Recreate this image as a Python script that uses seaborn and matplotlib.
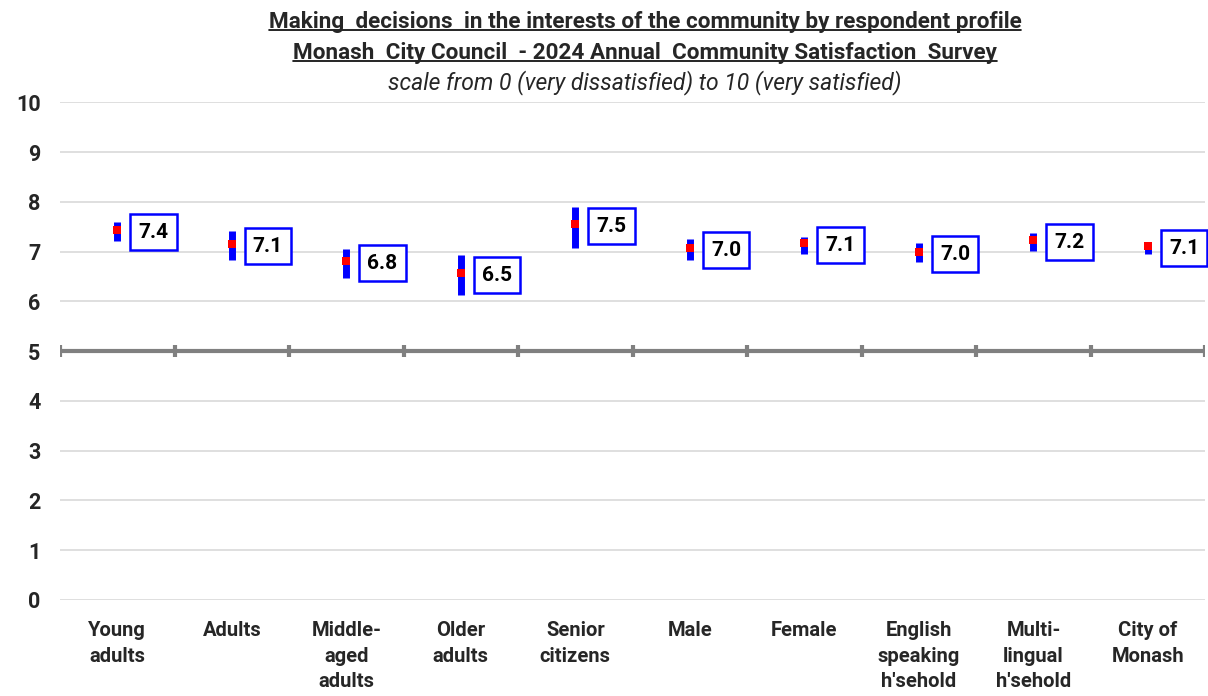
import numpy as np
import pandas as pd
import matplotlib.pyplot as plt
import seaborn as sns
from matplotlib.lines import Line2D

groups = ['Young\nadults', 'Adults', 'Middle-\naged\nadults', 'Older\nadults',
          'Senior\ncitizens', 'Male', 'Female', 'English\nspeaking\nh\'sehold',
          'Multi-\nlingual\nh\'sehold', 'City of\nMonash']
means = [7.4, 7.1, 6.8, 6.5, 7.5, 7.0, 7.1, 7.0, 7.2, 7.1]
mean_pos = [7.43, 7.15, 6.81, 6.57, 7.55, 7.07, 7.17, 6.99, 7.23, 7.11]
ci_low = [7.21, 6.83, 6.47, 6.12, 7.07, 6.83, 6.95, 6.79, 7.01, 6.95]
ci_high = [7.59, 7.41, 7.05, 6.93, 7.89, 7.25, 7.29, 7.17, 7.37, 7.19]
yticks = list(range(0, 11))

sns.set_style('white')
plt.rcParams['font.family'] = ['Roboto', 'DejaVu Sans']

df = pd.DataFrame({'x': np.arange(len(groups)), 'mean': mean_pos,
                   'low': ci_low, 'high': ci_high, 'label': means})

fig = plt.figure(figsize=(12.08, 6.96), dpi=100)
ax = fig.add_axes([0.0497, 0.138, 0.948, 0.715])

# grid
for y in yticks:
    ax.axhline(y, color='#d9d9d9', lw=1.2, zorder=0)

# reference axis at 5
ax.axhline(5, color='#808080', lw=3, zorder=1)
bounds = np.arange(len(groups) + 1) - 0.5
ax.vlines(bounds, 4.88, 5.12, color='#808080', lw=3, zorder=1)

# confidence intervals
ax.vlines(df['x'], df['low'], df['high'], color='#0000ff', lw=5, zorder=2)
sns.scatterplot(data=df, x='x', y='mean', marker='s', color='#ff0000',
                s=38, linewidth=0, zorder=3, ax=ax)

for _, r in df.iterrows():
    ax.annotate(f"{r['label']:.1f}", (r['x'], r['mean']), xytext=(26, -1.5),
                textcoords='offset points', ha='center', va='center',
                fontsize=15, fontweight='bold', color='black',
                bbox=dict(boxstyle='square,pad=0.4', fc='white', ec='#0000ff', lw=1.8),
                zorder=4)

ax.set_xlim(-0.5, len(groups) - 0.5)
ax.set_ylim(0, 10)
ax.set_yticks(yticks)
ax.set_yticklabels([str(v) for v in yticks], fontsize=15.5, fontweight='bold')
ax.set_xticks(df['x'])
ax.set_xticklabels(groups, fontsize=14.5, fontweight='bold', linespacing=1.45, va='top')
ax.tick_params(axis='x', length=0, pad=15)
ax.tick_params(axis='y', length=0, pad=14)
ax.set_xlabel('')
ax.set_ylabel('')
for s in ax.spines.values():
    s.set_visible(False)

t1 = fig.text(0.534, 0.968, 'Making  decisions  in the interests of the community by respondent profile',
              ha='center', va='center', fontsize=16.2, fontweight='bold')
t2 = fig.text(0.534, 0.924, 'Monash  City Council  - 2024 Annual  Community Satisfaction  Survey',
              ha='center', va='center', fontsize=16.2, fontweight='bold')
fig.text(0.534, 0.881, 'scale from 0 (very dissatisfied) to 10 (very satisfied)',
         ha='center', va='center', fontsize=16.5, fontstyle='italic')

fig.canvas.draw()
r = fig.canvas.get_renderer()
for t in (t1, t2):
    bb = t.get_window_extent(renderer=r).transformed(fig.transFigure.inverted())
    fig.add_artist(Line2D([bb.x0, bb.x1], [bb.y0 + 0.004, bb.y0 + 0.004],
                          transform=fig.transFigure, color='black', lw=1.2))

fig.savefig('out.png', dpi=100)
